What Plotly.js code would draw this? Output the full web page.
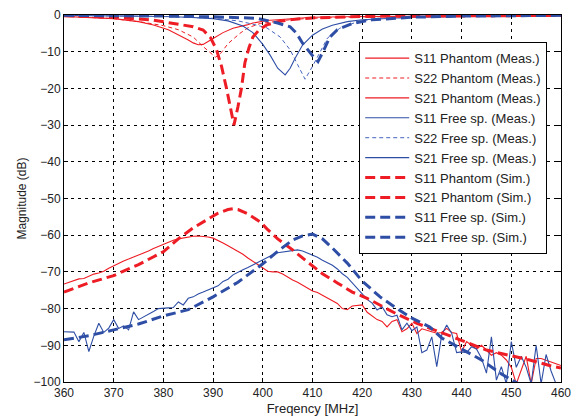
<!DOCTYPE html>
<html>
<head>
<meta charset="utf-8">
<script src="https://cdn.plot.ly/plotly-3.0.1.min.js"></script>
<style>html,body{margin:0;padding:0;background:#fff;}#chart{width:575px;height:418px;}</style>
</head>
<body>
<div id="chart"></div>
<script>
// ---- Data ----
var s11PhMeasX = [360,365,370,375,378,381,383,385,386,387,388,389,390,392,394,396.8,398,400.8,405,410,420,430,440,450,460];
var s11PhMeasY = [-0.4,-0.6,-1.0,-1.8,-2.7,-4.0,-5.3,-6.8,-7.6,-8.1,-8.0,-7.3,-6.4,-4.8,-3.6,-2.7,-2.2,-1.5,-1.0,-0.6,-0.4,-0.3,-0.25,-0.2,-0.2];

var s22PhMeasX = [360,370,376,380,383,386,388,389.5,390.5,391.5,393,395.4,397,399.5,403,406,410,420,440,460];
var s22PhMeasY = [-0.3,-1.0,-2.0,-2.9,-4.0,-6.0,-8.6,-10.5,-11.5,-10.5,-7.8,-5.0,-3.5,-2.3,-1.6,-1.2,-0.9,-0.5,-0.3,-0.2];

var s11FsMeasX = [360,370,380,385,390,393,396,398,400,401.5,403,404.5,405.5,406.5,408,410,412,414,417,420,425,430,440,450,460];
var s11FsMeasY = [-0.1,-0.2,-0.4,-0.6,-1.0,-1.6,-3.0,-4.8,-8.0,-11,-14.5,-16.3,-14.5,-11.8,-8.2,-5.5,-3.8,-2.8,-1.8,-1.3,-0.9,-0.6,-0.4,-0.3,-0.2];

var s22FsMeasX = [360,370,380,390,395,398,400.8,403.5,405.5,407,408.5,410,411,413,415.5,419.5,425,430,440,460];
var s22FsMeasY = [-0.1,-0.2,-0.4,-0.9,-1.6,-2.5,-3.5,-6,-9.5,-13.5,-17.5,-14,-11.4,-6.3,-3.6,-1.6,-0.9,-0.6,-0.4,-0.2];

var s11PhSimX = [360,370,378,383,386,388,389.5,390.7,391.7,392.7,393.5,394.2,395,395.7,396.4,397.2,398,399.3,400.8,403,406,410,420,430,440,460];
var s11PhSimY = [-0.2,-0.6,-1.4,-2.4,-3.2,-4.1,-6.2,-9.5,-14,-20,-25,-30,-25,-20,-13,-9,-6,-4,-2.7,-1.8,-1.2,-0.8,-0.4,-0.3,-0.2,-0.1];

var s11FsSimX = [360,370,380,390,395,398.8,403,405.5,406.8,408,409.9,411.1,412.3,413.5,415,418,422,430,440,460];
var s11FsSimY = [-0.1,-0.1,-0.3,-0.5,-0.7,-0.9,-2.2,-3.2,-5.0,-7.7,-10.9,-12.7,-9.5,-6.0,-4.0,-2.3,-1.3,-0.6,-0.3,-0.1];

var s21PhMeasX = [360,361,362,363,364,365,366,367,368,369,370,371,372,373,374,375,376,377,378,379,380,381,382,383,384,385,386,387,388,389,390,391,392,393,394,395,396,397,398,399,400,401,402,403,404,405,406,407,408,409,410,411,412,413,414,415,416,417,418,419,420,421,422,423,424,425,426,427,428,429,430,431,432,433,434,435,436,437,438,439,440,441,442,443,444,445,446,447,448,449,450,451,452,453,454,455,456,457,458,459,460];
var s21PhMeasY = [-73.3,-72.9,-72.3,-71.9,-71.8,-71.2,-70.6,-70.3,-69.8,-69.0,-68.3,-67.7,-67.0,-66.5,-66.0,-65.4,-65.0,-64.3,-63.6,-63.0,-62.4,-62.0,-61.4,-61.0,-60.7,-60.5,-60.3,-60.2,-60.3,-60.5,-60.8,-61.4,-62.1,-62.9,-63.6,-64.4,-65.2,-66.2,-67.1,-68.0,-69.0,-69.8,-70.0,-70.0,-70.6,-71.5,-72.2,-72.8,-73.6,-74.6,-75.2,-75.6,-76.3,-77.0,-77.8,-78.6,-80.0,-80.3,-79.3,-79.1,-79.0,-81.0,-82.0,-83.0,-83.5,-85.0,-83.5,-83.0,-86.3,-85.5,-84.0,-86.8,-85.5,-85.8,-86.3,-86.7,-86.5,-85.4,-86.5,-86.8,-91.7,-89.0,-90.0,-91.0,-90.0,-91.3,-92.7,-92.0,-92.7,-94.0,-96.0,-100.5,-96.5,-93.0,-100.5,-93.6,-93.6,-94.0,-94.5,-95.0,-95.5];

var s21FsMeasX = s21PhMeasX.slice();
var s21FsMeasY = [-86.3,-86.3,-86.4,-89.0,-86.5,-91.7,-87.5,-84.0,-86.5,-85.3,-83.0,-85.4,-84.7,-85.8,-80.9,-83.0,-82.3,-81.7,-80.8,-80.0,-79.8,-79.8,-79.7,-78.2,-79.0,-77.2,-76.8,-76.0,-75.5,-75.0,-74.3,-73.8,-72.6,-72.0,-70.8,-70.0,-69.4,-68.8,-68.1,-67.3,-66.6,-66.0,-65.3,-64.8,-64.6,-64.4,-64.2,-64.0,-64.3,-64.8,-65.4,-66.0,-66.8,-67.4,-68.2,-69.2,-70.5,-71.5,-73.0,-74.6,-76.3,-77.5,-78.5,-80.4,-79.5,-81.7,-82.2,-81.8,-85.8,-84.0,-86.0,-85.0,-92.0,-91.3,-87.7,-95.8,-87.2,-84.5,-86.7,-92.0,-91.8,-92.0,-90.4,-91.0,-93.5,-97.6,-87.7,-99.5,-95.8,-100.5,-89.0,-96.0,-93.0,-96.0,-100.5,-90.0,-100.5,-92.5,-97.0,-100.5,-100.5];

var s21PhSimX = [360,365,370,375,380,383,386,389,391,393,394,395,397,399.5,401,403,406,409,412,415,418,421,424,427,431,435.6,439.7,445,449,453.7,458.5,460];
var s21PhSimY = [-75.5,-73.0,-71.0,-68.0,-64.5,-61.0,-58.0,-55.5,-54.0,-53.0,-52.8,-53.0,-54.2,-56.4,-58.5,-61.0,-64.0,-67.3,-70.5,-73.0,-75.5,-77.2,-79.3,-81.5,-84.0,-86.3,-88.5,-91.3,-92.6,-94.0,-95.8,-96.2];

var s21FsSimX = [360,365,370,375,380,385,390,395,400,403,406,408,410,412,414,417,420,423.6,427,430,433.6,436,440,444,448,452,456,460];
var s21FsSimY = [-88.5,-87.4,-85.8,-84.2,-82.0,-80.3,-76.8,-72.8,-67.8,-64.4,-61.3,-60.2,-59.7,-61.0,-63.5,-67.6,-72.5,-76.8,-80.0,-82.6,-85.0,-88.0,-91.0,-94.0,-97.8,-101,-104,-106];

var seriesNames = ['S11 Phantom (Meas.)','S22 Phantom (Meas.)','S21 Phantom (Meas.)','S11 Free sp. (Meas.)','S22 Free sp. (Meas.)','S21 Free sp. (Meas.)','S11 Phantom (Sim.)','S21 Phantom (Sim.)','S11 Free sp. (Sim.)','S21 Free sp. (Sim.)'];
var xTicks = [360,370,380,390,400,410,420,430,440,450,460];
var yTicks = [0,-10,-20,-30,-40,-50,-60,-70,-80,-90,-100];

// ---- Styles ----
var RED = 'rgb(238,28,36)';
var BLUE = 'rgb(46,78,165)';
var BLUE_L = 'rgb(70,100,190)';
function tr(x, y, name, color, width, dash) {
  return {x: x, y: y, name: name, type: 'scatter', mode: 'lines',
          line: {color: color, width: width, dash: dash}, cliponaxis: true};
}
var thinDash = '4px,3px';
var thickDash = '10px,5px';
var data = [
  tr(s11PhMeasX, s11PhMeasY, seriesNames[0], RED, 1.1, 'solid'),
  tr(s22PhMeasX, s22PhMeasY, seriesNames[1], RED, 1, thinDash),
  tr(s21PhMeasX, s21PhMeasY, seriesNames[2], RED, 1.1, 'solid'),
  tr(s11FsMeasX, s11FsMeasY, seriesNames[3], BLUE, 1.1, 'solid'),
  tr(s22FsMeasX, s22FsMeasY, seriesNames[4], BLUE_L, 1, thinDash),
  tr(s21FsMeasX, s21FsMeasY, seriesNames[5], BLUE, 1.1, 'solid'),
  tr(s11PhSimX, s11PhSimY, seriesNames[6], RED, 3, thickDash),
  tr(s21PhSimX, s21PhSimY, seriesNames[7], RED, 3, thickDash),
  tr(s11FsSimX, s11FsSimY, seriesNames[8], BLUE, 3, thickDash),
  tr(s21FsSimX, s21FsSimY, seriesNames[9], BLUE, 3, thickDash)
];

var axisCommon = {
  showline: true, linecolor: '#000', linewidth: 1, mirror: 'ticks',
  ticks: 'inside', ticklen: 4, tickcolor: '#000', tickwidth: 1,
  showgrid: true, gridcolor: '#000', gridwidth: 1, griddash: '3px,4px',
  zeroline: false, automargin: false,
  tickfont: {family: 'Liberation Sans, Arial, sans-serif', size: 12, color: '#222'}
};
var layout = {
  width: 575, height: 418,
  margin: {l: 64, r: 14, t: 15, b: 36},
  paper_bgcolor: '#fff', plot_bgcolor: '#fff',
  showlegend: true,
  xaxis: Object.assign({}, axisCommon, {
    range: [360, 460], tickvals: xTicks, ticktext: xTicks.map(String),
    title: {text: 'Freqency [MHz]', standoff: 4, font: {family: 'Liberation Sans, Arial, sans-serif', size: 13, color: '#222'}}
  }),
  yaxis: Object.assign({}, axisCommon, {
    range: [-100, 0], tickvals: yTicks,
    title: {text: 'Magnitude (dB)', standoff: 4, font: {family: 'Liberation Sans, Arial, sans-serif', size: 12, color: '#222'}}
  }),
  legend: {
    x: 0.594, y: 0.926, xanchor: 'left', yanchor: 'top',
    bgcolor: '#fff', bordercolor: '#000', borderwidth: 1,
    font: {family: 'Liberation Sans, Arial, sans-serif', size: 13, color: '#222'},
    itemwidth: 44, tracegroupgap: 0
  }
};
Plotly.newPlot('chart', data, layout, {staticPlot: true, displayModeBar: false});
</script>
</body>
</html>
